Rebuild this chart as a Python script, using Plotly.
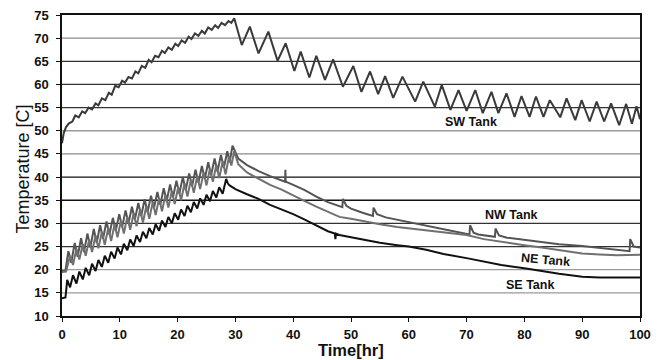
import plotly.graph_objects as go

# ---------------- data ----------------
sw_x = [0, 0.3, 0.7, 1.2, 1.8, 2.3, 2.9, 3.5, 4.0, 4.6, 5.2, 5.8, 6.3, 6.9, 7.5, 8.1, 8.6, 9.2, 9.8,
        10.4, 10.9, 11.5, 12.1, 12.7, 13.2, 13.8, 14.4, 15.0, 15.5, 16.1, 16.7, 17.3, 17.8, 18.4, 19.0,
        19.6, 20.1, 20.7, 21.3, 21.9, 22.4, 23.0, 23.6, 24.2, 24.7, 25.3, 25.9, 26.5, 27.0, 27.6, 28.2,
        28.8, 29.3, 29.8,
        31.1, 32.5, 34.0, 35.7, 37.3, 38.7, 40.2, 41.3, 42.8, 44.0, 45.5, 46.9, 48.6, 50.4, 51.8, 53.3,
        54.7, 55.9, 57.3, 58.9, 61.1, 62.5, 64.5, 65.7, 67.2, 68.6, 70.0, 71.5, 72.8, 74.3, 75.5, 76.9,
        78.3, 79.5, 80.9, 82.0, 83.3, 84.4, 86.2, 87.3, 88.8, 89.9, 91.3, 92.5, 93.8, 95.0, 96.4, 97.6,
        98.6, 99.4, 100]
sw_y = [47.3, 49.5, 50.8, 51.6, 52.0, 53.3, 52.9, 54.2, 53.8, 55.0, 54.6, 55.9, 55.5, 57.0, 56.6, 58.2,
        57.8, 59.7, 59.4, 60.8, 60.4, 61.6, 61.3, 62.8, 62.4, 64.0, 63.6, 65.3, 64.8, 66.2, 65.9, 67.3,
        66.8, 68.0, 67.5, 68.8, 68.3, 69.5, 69.0, 70.3, 69.8, 71.0, 70.5, 71.6, 71.0, 72.3, 71.8, 72.8,
        72.2, 73.3, 72.8, 73.7, 73.3, 74.3,
        68.5, 72.5, 66.7, 71.4, 65.1, 68.9, 62.9, 67.1, 61.5, 66.2, 61.0, 65.4, 59.5, 64.0, 58.4, 62.8,
        57.9, 61.8, 57.1, 61.7, 56.3, 60.6, 55.2, 59.9, 54.5, 58.8, 54.3, 58.8, 53.8, 58.4, 53.8, 58.1,
        53.0, 57.5, 53.0, 57.4, 53.0, 56.6, 52.9, 57.0, 52.3, 56.6, 52.0, 56.3, 52.0, 55.9, 51.2, 55.8,
        51.5, 55.3, 52.5]

nw_x = [0, 0.6, 1.1, 1.6, 2.2, 2.7, 3.3, 3.8, 4.4, 4.9, 5.5, 6.0, 6.6, 7.1, 7.7, 8.2, 8.8, 9.3, 9.9,
        10.4, 11.0, 11.5, 12.1, 12.6, 13.2, 13.7, 14.3, 14.8, 15.4, 15.9, 16.5, 17.0, 17.6, 18.1, 18.7,
        19.2, 19.8, 20.3, 20.9, 21.4, 22.0, 22.5, 23.1, 23.6, 24.2, 24.7, 25.3, 25.8, 26.4, 26.9, 27.5,
        28.0, 28.6, 29.0, 29.5,
        30.5, 32, 34, 36, 38, 38.6, 38.65, 38.7, 40, 42, 44, 46, 48.5, 48.6, 49.2, 50, 52, 53.8, 53.9,
        54.5, 56, 58, 60, 62, 64, 66, 68, 70.5, 70.6, 71.2, 72, 74.9, 75.0, 75.6, 77, 80, 83, 86, 90,
        93, 96, 98.2, 98.3, 98.9, 100]
nw_y = [19.7, 19.8, 24.0, 21.5, 25.8, 22.8, 26.8, 23.8, 27.8, 24.8, 28.8, 25.8, 29.6, 26.7, 30.4, 27.6,
        31.2, 28.4, 32.0, 29.2, 32.8, 30.0, 33.6, 30.8, 34.4, 31.6, 35.2, 32.4, 36.0, 33.2, 36.8, 34.0,
        37.6, 34.8, 38.4, 35.6, 39.2, 36.4, 40.0, 37.2, 40.8, 38.0, 41.6, 38.8, 42.4, 39.6, 43.2, 40.4,
        44.0, 41.2, 44.8, 42.0, 45.6, 43.2, 46.8,
        44.0, 42.6, 41.3, 40.2, 39.3, 39.0, 41.6, 39.0, 38.3, 37.2, 35.8, 34.6, 33.5, 35.3, 33.8, 33.2,
        32.3, 31.6, 33.4, 32.0, 31.3, 30.8, 30.2, 29.8, 29.3, 28.7, 28.3, 27.6, 29.6, 28.0, 27.6, 27.1,
        28.9, 27.4, 26.9, 26.4, 26.0, 25.5, 25.1, 24.7, 24.2, 24.0, 26.6, 25.0, 24.8]

ne_x = [0, 0.7, 1.4, 1.9, 2.5, 3.0, 3.6, 4.1, 4.7, 5.2, 5.8, 6.3, 6.9, 7.4, 8.0, 8.5, 9.1, 9.6, 10.2,
        10.7, 11.3, 11.8, 12.4, 12.9, 13.5, 14.0, 14.6, 15.1, 15.7, 16.2, 16.8, 17.3, 17.9, 18.4, 19.0,
        19.5, 20.1, 20.6, 21.2, 21.7, 22.3, 22.8, 23.4, 23.9, 24.5, 25.0, 25.6, 26.1, 26.7, 27.2, 27.8,
        28.3, 28.9, 29.3, 29.8,
        30.5, 32, 34, 36, 38, 40, 42, 44, 46.4, 48, 50, 52, 55, 58, 60, 63, 66, 70, 73, 76, 80, 83,
        86, 90, 93, 96, 100]
ne_y = [19.5, 19.6, 23.0, 21.0, 24.5, 22.2, 25.5, 23.0, 26.5, 23.8, 27.4, 24.6, 28.2, 25.4, 29.0, 26.2,
        29.8, 27.0, 30.6, 27.8, 31.4, 28.6, 32.2, 29.4, 33.0, 30.2, 33.8, 31.0, 34.6, 31.8, 35.4, 32.6,
        36.2, 33.4, 37.0, 34.2, 37.8, 35.0, 38.6, 35.8, 39.4, 36.6, 40.2, 37.4, 41.0, 38.2, 41.8, 39.0,
        42.6, 39.8, 43.4, 40.6, 44.5, 42.5, 45.6,
        42.8, 41.0, 39.6, 38.3, 37.3, 36.0, 34.8, 33.6, 32.2, 31.4, 31.0, 30.5, 29.8, 29.2, 28.9, 28.4,
        28.0, 27.5, 26.6, 26.0, 25.3, 24.8, 24.2, 23.5, 23.3, 23.1, 23.2]

se_x = [0, 0.6, 0.9, 1.4, 1.9, 2.5, 3.0, 3.6, 4.1, 4.7, 5.2, 5.8, 6.3, 6.9, 7.4, 8.0, 8.5, 9.1, 9.6,
        10.2, 10.7, 11.3, 11.8, 12.4, 12.9, 13.5, 14.0, 14.6, 15.1, 15.7, 16.2, 16.8, 17.3, 17.9, 18.4,
        19.0, 19.5, 20.1, 20.6, 21.2, 21.7, 22.3, 22.8, 23.4, 23.9, 24.5, 25.0, 25.6, 26.1, 26.7, 27.2,
        27.8, 28.4, 28.7, 29.0,
        30, 32, 34, 36, 38, 40, 42, 44, 46, 47.2, 47.3, 47.4, 48, 50, 52, 55, 58, 60, 63, 66, 70, 73,
        76, 80, 83, 86, 90, 93, 96, 100]
se_y = [13.8, 14.0, 17.8, 16.2, 18.8, 17.0, 19.6, 17.9, 20.4, 18.8, 21.3, 19.7, 22.1, 20.6, 23.0, 21.5,
        23.9, 22.4, 24.8, 23.3, 25.6, 24.2, 26.5, 25.1, 27.4, 26.0, 28.2, 26.8, 29.0, 27.6, 29.8, 28.4,
        30.6, 29.2, 31.4, 30.0, 32.2, 30.8, 33.0, 31.6, 33.8, 32.4, 34.6, 33.2, 35.4, 34.0, 36.2, 34.8,
        37.0, 35.6, 37.8, 36.4, 39.6, 38.6, 38.2,
        37.4, 36.3, 35.3, 34.0, 33.0, 32.0, 30.8, 29.6, 28.3, 27.8, 26.6, 27.8, 27.5, 27.0, 26.5, 25.8,
        25.3, 25.0, 24.3, 23.4, 22.5, 21.8, 21.0, 20.3, 19.7, 19.1, 18.5, 18.3, 18.3, 18.3]

y_ticks = list(range(10, 80, 5))
x_ticks = list(range(0, 110, 10))
grid_levels = [15, 20, 25, 30, 35, 40, 45, 50, 55, 60, 65, 70]
grid_colors = ["#9a9a9a", "#9a9a9a", "#333333", "#333333", "#111111", "#111111",
               "#8a8a8a", "#9a9a9a", "#333333", "#333333", "#333333", "#8a8a8a"]

labels = ["SW Tank", "NW Tank", "NE Tank", "SE Tank"]
label_x = [70.8, 77.7, 83.7, 81.0]
label_y = [51.9, 31.8, 22.1, 16.7]
label_angle = [0, 0, 5, 0]

x_title = "Time[hr]"
y_title = "Temperature [C]"

# ---------------- figure ----------------
FONT = "Arial, Liberation Sans, sans-serif"
fig = go.Figure()

series = [
    (sw_x, sw_y, "#3a3a3a"),
    (nw_x, nw_y, "#545454"),
    (ne_x, ne_y, "#707070"),
    (se_x, se_y, "#111111"),
]
for xs, ys, c in series:
    fig.add_trace(go.Scatter(x=xs, y=ys, mode="lines",
                             line=dict(color=c, width=2), showlegend=False,
                             hoverinfo="skip"))

shapes = []
for lv, col in zip(grid_levels, grid_colors):
    shapes.append(dict(type="line", xref="paper", x0=0, x1=1, yref="y", y0=lv, y1=lv,
                       line=dict(color=col, width=1.3), layer="below"))

annotations = []
for t, lx, ly, ang in zip(labels, label_x, label_y, label_angle):
    annotations.append(dict(x=lx, y=ly, text=t, showarrow=False, textangle=ang,
                            font=dict(family=FONT, size=12.5, color="#111", weight="bold")))
annotations.append(dict(x=0.5, y=0, xref="paper", yref="paper", yanchor="middle",
                        yshift=-34, text=x_title, showarrow=False, borderpad=0,
                        font=dict(family=FONT, size=16.5, color="#111", weight="bold")))
annotations.append(dict(x=0, y=0.5, xref="paper", yref="paper", xanchor="center",
                        yanchor="middle", xshift=-40, yshift=-4, textangle=-90,
                        text=y_title, showarrow=False,
                        font=dict(family=FONT, size=18, color="#111")))

fig.update_layout(
    width=666, height=360,
    margin=dict(l=62, r=26, t=15, b=44),
    paper_bgcolor="white", plot_bgcolor="white",
    shapes=shapes, annotations=annotations,
    xaxis=dict(range=[0, 100], tickvals=x_ticks, showgrid=False, zeroline=False,
               automargin=False,
               showline=True, linecolor="#111", linewidth=1.5, mirror=True,
               ticks="outside", ticklen=4, tickcolor="#111", ticklabelstandoff=2,
               tickfont=dict(family=FONT, size=13, color="#111", weight="bold")),
    yaxis=dict(range=[10, 75], tickvals=y_ticks, showgrid=False, zeroline=False,
               automargin=False,
               showline=True, linecolor="#111", linewidth=1.5, mirror=True,
               ticks="outside", ticklen=4, tickcolor="#111", ticklabelstandoff=5,
               tickfont=dict(family=FONT, size=13, color="#111", weight="bold")),
)

fig.write_html("out.html", config={"displayModeBar": False},
               post_script="document.body.style.margin='0';document.body.style.overflow='hidden';")
